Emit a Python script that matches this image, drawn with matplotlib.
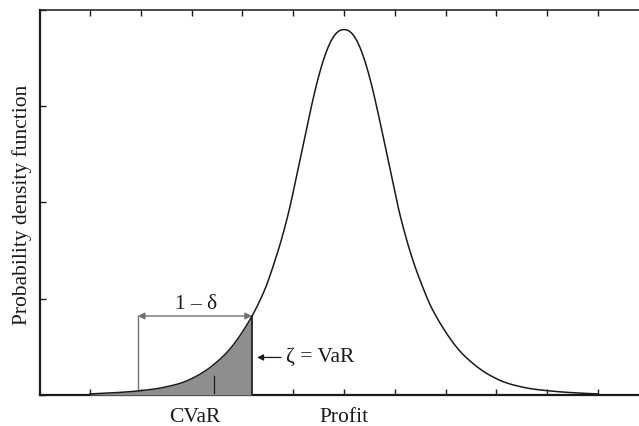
import numpy as np
import matplotlib
matplotlib.use("Agg")
import matplotlib.pyplot as plt

# density curve (profit axis in tick units, density in tick units)
profit = [0.00, 0.47, 0.96, 1.45, 1.95, 2.44, 2.78, 3.03, 3.19, 3.31, 3.47, 3.62, 3.78,
          3.94, 4.09, 4.25, 4.36, 4.47, 4.59, 4.78, 5.00,
          5.22, 5.41, 5.53, 5.64, 5.75, 5.91, 6.06, 6.22, 6.38, 6.54, 6.69, 6.81, 6.97,
          7.22, 7.56, 8.05, 8.54, 9.04, 9.53, 10.00]
density = [0.011, 0.023, 0.043, 0.079, 0.157, 0.318, 0.494, 0.680, 0.821, 0.943, 1.134,
           1.362, 1.637, 1.965, 2.339, 2.737, 3.003, 3.248, 3.472, 3.711, 3.797,
           3.711, 3.472, 3.248, 3.003, 2.737, 2.339, 1.965, 1.637, 1.362, 1.134, 0.943,
           0.821, 0.680, 0.494, 0.318, 0.157, 0.079, 0.043, 0.023, 0.011]

var_x = 3.19        # zeta = VaR
var_y = 0.821
bracket_x = 0.94    # left end of the 1 - delta bracket
bracket_y0 = 0.042
cvar_x = 2.44       # CVaR mark
cvar_h = 0.20
xticks = list(range(0, 11))
yticks = [0, 1, 2, 3, 4]


def smooth(xk, yk, xs):
    """Cubic Hermite through the read points (centred slopes), for a smooth line."""
    xk = np.asarray(xk, float)
    yk = np.asarray(yk, float)
    h = np.diff(xk)
    d = np.diff(yk) / h
    m = np.empty_like(yk)
    m[1:-1] = (d[:-1] * h[1:] + d[1:] * h[:-1]) / (h[:-1] + h[1:])
    m[0] = d[0]
    m[-1] = d[-1]
    idx = np.clip(np.searchsorted(xk, xs) - 1, 0, len(xk) - 2)
    t = (xs - xk[idx]) / h[idx]
    h00 = 2 * t**3 - 3 * t**2 + 1
    h10 = t**3 - 2 * t**2 + t
    h01 = -2 * t**3 + 3 * t**2
    h11 = t**3 - t**2
    return (h00 * yk[idx] + h10 * h[idx] * m[idx] + h01 * yk[idx + 1]
            + h11 * h[idx] * m[idx + 1])


plt.rcParams['font.family'] = ['Liberation Serif', 'DejaVu Serif']
FS = 15.5
INK = '#1a1a1a'

fig = plt.figure(figsize=(6.39, 4.26), dpi=100)
ax = fig.add_axes([40/639, 1 - 395/426, 1 - 40/639, (395 - 10)/426])

xs = np.linspace(profit[0], profit[-1], 1000)
ys = smooth(profit, density, xs)
xf = np.linspace(profit[0], var_x, 300)
yf = smooth(profit, density, xf)

ax.fill_between(xf, 0, yf, color='#8e8e90', linewidth=0, zorder=3)
ax.plot(xs, ys, color=INK, linewidth=1.1, zorder=5)
ax.plot([var_x, var_x], [0, var_y], color=INK, linewidth=1.2, zorder=5)
ax.plot([cvar_x, cvar_x], [0.02, cvar_h], color=INK, linewidth=0.9, zorder=5)

# 1 - delta bracket
ax.plot([bracket_x, bracket_x], [bracket_y0, var_y], color='#707070', linewidth=1.0, zorder=4)
ax.annotate('', xy=(bracket_x, var_y), xytext=(var_x, var_y),
            arrowprops=dict(arrowstyle='<|-|>', color='#707070', lw=1.0,
                            mutation_scale=10, shrinkA=0, shrinkB=0), zorder=6)
ax.text(2.09, 0.94, '1 \u2013 \u03b4', ha='center', va='center', fontsize=FS, color=INK)

# zeta = VaR arrow
ax.annotate('', xy=(var_x + 0.1, 0.39), xytext=(3.76, 0.39),
            arrowprops=dict(arrowstyle='-|>', color=INK, lw=0.9,
                            mutation_scale=9, shrinkA=0, shrinkB=0))
ax.text(3.86, 0.39, '\u03b6 = VaR', ha='left', va='center', fontsize=FS, color=INK)

ax.set_xlim((40 - 90) / 50.8, (639 - 90) / 50.8)
ax.set_ylim(0, (395 - 10) / 96.3)

ax.set_xticks(xticks)
ax.set_yticks(yticks)
ax.set_xticklabels([])
ax.set_yticklabels([])
ax.tick_params(axis='x', direction='in', length=4, width=1.0, top=True, bottom=True, color=INK)
ax.tick_params(axis='y', direction='in', length=4, width=1.0, left=True, right=False, color=INK)

ax.spines['right'].set_visible(False)
ax.spines['left'].set_linewidth(1.6)
ax.spines['bottom'].set_linewidth(1.6)
ax.spines['top'].set_linewidth(1.1)
for s in ax.spines.values():
    s.set_color(INK)

ax.text(2.07, -0.23, 'CVaR', ha='center', va='center', fontsize=FS, color=INK)
ax.text(5.0, -0.23, 'Profit', ha='center', va='center', fontsize=FS, color=INK)
fig.text(22/639, 1 - 205/426, 'Probability density function', rotation=90,
         ha='center', va='center', fontsize=FS, color=INK)

fig.savefig('out.png', dpi=100)
